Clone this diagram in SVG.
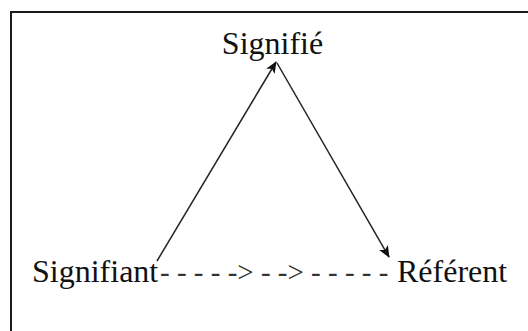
<svg xmlns="http://www.w3.org/2000/svg" width="528" height="331" viewBox="0 0 528 331">
<style>
text{font-family:'Liberation Serif','Times New Roman',serif}
.lbl{font-size:32px;fill:#111}
.dash{font-size:29px;fill:#333}
.edge{stroke:#222;stroke-width:1.5;fill:none}
</style>
<defs>
<marker id="ah" viewBox="0 0 12 10" refX="11" refY="5" markerWidth="12" markerHeight="10" markerUnits="userSpaceOnUse" orient="auto">
<path d="M0,0 L12,5 L0,10 L3,5 z" fill="#111"/>
</marker>
</defs>
<rect width="528" height="331" fill="#fff"/>
<path d="M11,331 L11,12 L528,12" fill="none" stroke="#1a1a1a" stroke-width="2"/>
<g id="connectors">
<line class="edge" x1="157" y1="261" x2="276" y2="62" marker-end="url(#ah)"/>
<line class="edge" x1="277" y1="63" x2="389" y2="257" marker-end="url(#ah)"/>
</g>
<g id="signifie"><text class="lbl" x="272.5" y="54" text-anchor="middle">Signifié</text></g>
<g id="signifiant"><text class="lbl" x="32" y="282">Signifiant</text></g>
<g id="dashes"><text class="dash" x="160" y="282">- - - - -&gt; - -&gt; - - - - -</text></g>
<g id="referent"><text class="lbl" x="397" y="282">Référent</text></g>
</svg>
